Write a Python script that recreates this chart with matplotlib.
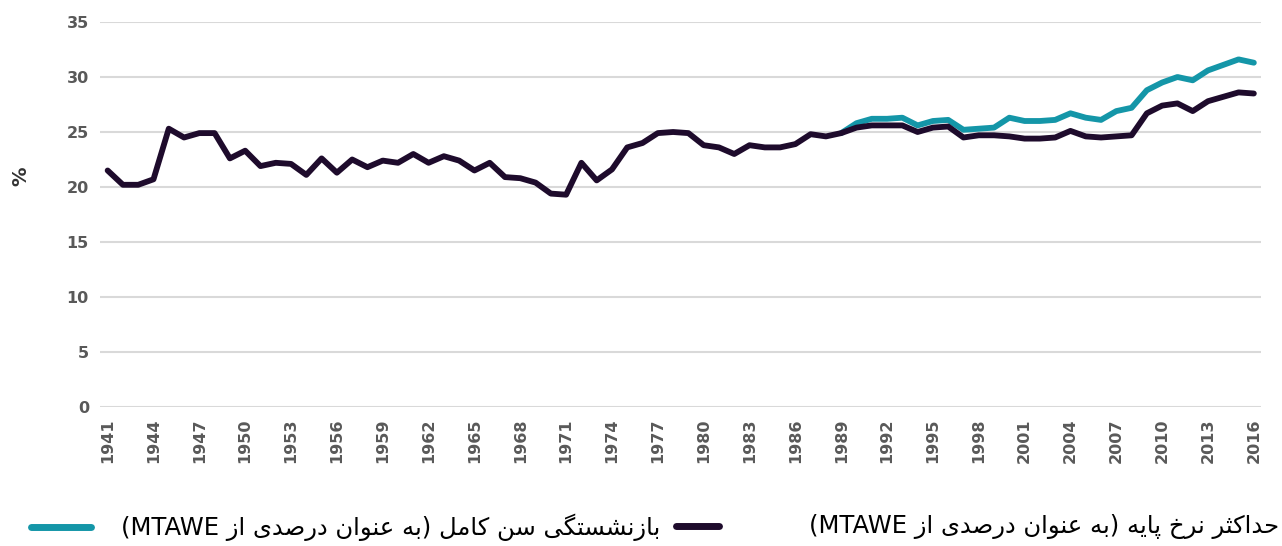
import numpy as np
import matplotlib.pyplot as plt
from matplotlib.lines import Line2D

# data
years = list(range(1941, 2017))
full_pension = [
    21.5, 20.2, 20.2, 20.7, 25.3, 24.5, 24.9, 24.9, 22.6, 23.3,
    21.9, 22.2, 22.1, 21.1, 22.6, 21.3, 22.5, 21.8, 22.4, 22.2,
    23.0, 22.2, 22.8, 22.4, 21.5, 22.2, 20.9, 20.8, 20.4, 19.4,
    19.3, 22.2, 20.6, 21.6, 23.6, 24.0, 24.9, 25.0, 24.9, 23.8,
    23.6, 23.0, 23.8, 23.6, 23.6, 23.9, 24.8, 24.6, 24.9, 25.4,
    25.6, 25.6, 25.6, 25.0, 25.4, 25.5, 24.5, 24.7, 24.7, 24.6,
    24.4, 24.4, 24.5, 25.1, 24.6, 24.5, 24.6, 24.7, 26.7, 27.4,
    27.6, 26.9, 27.8, 28.2, 28.6, 28.5,
]
base_years = list(range(1989, 2017))
max_basic = [
    24.9, 25.8, 26.2, 26.2, 26.3, 25.6, 26.0, 26.1, 25.2, 25.3,
    25.4, 26.3, 26.0, 26.0, 26.1, 26.7, 26.3, 26.1, 26.9, 27.2,
    28.8, 29.5, 30.0, 29.7, 30.6, 31.1, 31.6, 31.3,
]
label_pension = "بازنشستگی سن کامل (به عنوان درصدی از MTAWE)"
label_basic = "حداکثر نرخ پایه (به عنوان درصدی از MTAWE)"

TEAL = "#1496a8"
DARK = "#1e0b2c"
GREY = "#595959"

# minimal persian shaping + bidi (matplotlib has no text shaping)
FORMS = {
    "ا": ("\uFE8D", "\uFE8E", None, None),
    "ب": ("\uFE8F", "\uFE90", "\uFE91", "\uFE92"),
    "پ": ("\uFB56", "\uFB57", "\uFB58", "\uFB59"),
    "ت": ("\uFE95", "\uFE96", "\uFE97", "\uFE98"),
    "ث": ("\uFE99", "\uFE9A", "\uFE9B", "\uFE9C"),
    "ح": ("\uFEA1", "\uFEA2", "\uFEA3", "\uFEA4"),
    "خ": ("\uFEA5", "\uFEA6", "\uFEA7", "\uFEA8"),
    "د": ("\uFEA9", "\uFEAA", None, None),
    "ر": ("\uFEAD", "\uFEAE", None, None),
    "ز": ("\uFEAF", "\uFEB0", None, None),
    "س": ("\uFEB1", "\uFEB2", "\uFEB3", "\uFEB4"),
    "ش": ("\uFEB5", "\uFEB6", "\uFEB7", "\uFEB8"),
    "ص": ("\uFEB9", "\uFEBA", "\uFEBB", "\uFEBC"),
    "ع": ("\uFEC9", "\uFECA", "\uFECB", "\uFECC"),
    "ک": ("\uFB8E", "\uFB8F", "\uFB90", "\uFB91"),
    "گ": ("\uFB92", "\uFB93", "\uFB94", "\uFB95"),
    "ل": ("\uFEDD", "\uFEDE", "\uFEDF", "\uFEE0"),
    "م": ("\uFEE1", "\uFEE2", "\uFEE3", "\uFEE4"),
    "ن": ("\uFEE5", "\uFEE6", "\uFEE7", "\uFEE8"),
    "ه": ("\uFEE9", "\uFEEA", "\uFEEB", "\uFEEC"),
    "و": ("\uFEED", "\uFEEE", None, None),
    "ی": ("\uFBFC", "\uFBFD", "\uFBFE", "\uFBFF"),
}


def shape_fa(text):
    out = []
    for i, ch in enumerate(text):
        if ch not in FORMS:
            out.append(ch)
            continue
        prev = text[i - 1] if i > 0 else ""
        nxt = text[i + 1] if i + 1 < len(text) else ""
        join_prev = prev in FORMS and FORMS[prev][2] is not None
        join_next = nxt in FORMS and FORMS[ch][2] is not None
        iso, fin, ini, med = FORMS[ch]
        if join_prev and join_next:
            out.append(med)
        elif join_prev:
            out.append(fin)
        elif join_next:
            out.append(ini)
        else:
            out.append(iso)
    vis = "".join(out)[::-1]
    vis = vis.translate(str.maketrans("()", ")("))
    # put latin runs back in reading order
    res, run = "", ""
    for ch in vis:
        if ch.isascii() and ch.isalpha():
            run += ch
        else:
            res += run[::-1] + ch
            run = ""
    return res + run[::-1]


fig = plt.figure(figsize=(12.82, 5.46), dpi=100)
ax = fig.add_axes([0.078, 0.2546, 0.906, 0.7051])

ax.plot(base_years, max_basic, color=TEAL, lw=4.2, solid_capstyle="round",
        solid_joinstyle="round")
ax.plot(years, full_pension, color=DARK, lw=4.2, solid_capstyle="round",
        solid_joinstyle="round")

ax.set_xlim(1940.5, 2016.5)
ax.set_ylim(0, 35)
ax.set_yticks(np.arange(0, 36, 5))
ax.set_xticks(years[::3])
ax.set_xticklabels([str(y) for y in years[::3]], rotation=90)
ax.grid(axis="y", color="#d9d9d9", lw=1.5)
ax.set_axisbelow(True)
for s in ax.spines.values():
    s.set_visible(False)
ax.tick_params(length=0, labelsize=11.5, labelcolor=GREY, pad=8)
for t in ax.get_xticklabels() + ax.get_yticklabels():
    t.set_fontweight("bold")
ax.set_ylabel("%", fontsize=14, fontweight="bold", color="#333333")
ax.yaxis.set_label_coords(-0.06, 0.6)

# legend drawn by hand, right-to-left like the source
fig.add_artist(Line2D([0.024, 0.071], [0.035, 0.035], color=TEAL, lw=5,
                      solid_capstyle="round"))
fig.text(0.094, 0.035, shape_fa(label_pension), fontsize=17.5, va="center",
         ha="left", color="black")
fig.add_artist(Line2D([0.527, 0.561], [0.037, 0.037], color=DARK, lw=5,
                      solid_capstyle="round"))
fig.text(0.998, 0.035, shape_fa(label_basic), fontsize=17.5, va="center",
         ha="right", color="black")

fig.savefig("out.png", dpi=100)
